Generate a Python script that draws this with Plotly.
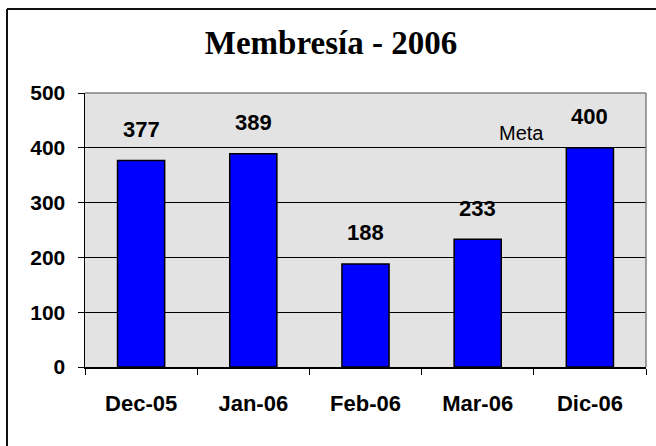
import plotly.graph_objects as go

categories = ["Dec-05", "Jan-06", "Feb-06", "Mar-06", "Dic-06"]
values = [377, 389, 188, 233, 400]
y_ticks = [0, 100, 200, 300, 400, 500]
title_text = "Membresía - 2006"
goal_label = "Meta"
goal_category = "Dic-06"
goal_value = 400

W, H = 656, 446
ML, MR, MT, MB = 85, 10, 93, 79
pw = W - ML - MR
ph = H - MT - MB

sans = "Liberation Sans, Arial, sans-serif"

fig = go.Figure()
fig.add_trace(go.Bar(
    x=categories, y=values,
    marker=dict(color="#0000FF", line=dict(color="#000000", width=1.5)),
    hoverinfo="skip",
))

annotations = []
for c, v in zip(categories, values):
    annotations.append(dict(
        x=c, y=v, text=str(v), showarrow=False, yanchor="middle",
        yshift=31, font=dict(family=sans, size=22, color="#000000", weight="bold"),
    ))
annotations.append(dict(
    x=goal_category, y=goal_value, text=goal_label, showarrow=False,
    yanchor="middle", xshift=-68, yshift=15,
    font=dict(family=sans, size=20, color="#000000"),
))

# outer border (top and left only) in paper coords
bx = (7 - ML) / pw
by = (H - MB - 9) / ph
shapes = [
    dict(type="line", xref="paper", yref="paper", x0=bx, x1=(W - ML + 20) / pw, y0=by, y1=by,
         line=dict(color="#111111", width=2)),
    dict(type="line", xref="paper", yref="paper", x0=bx, x1=bx, y0=by, y1=-(MB + 20) / ph,
         line=dict(color="#111111", width=2)),
    # plot area top and right border in gray
    dict(type="line", xref="paper", yref="paper", x0=0, x1=1, y0=1, y1=1,
         line=dict(color="#808080", width=1.5), layer="above"),
    dict(type="line", xref="paper", yref="paper", x0=1, x1=1, y0=0, y1=1,
         line=dict(color="#808080", width=1.5), layer="above"),
]

fig.update_layout(
    width=W, height=H,
    margin=dict(l=ML, r=MR, t=MT, b=MB),
    paper_bgcolor="#FFFFFF",
    plot_bgcolor="#E3E3E3",
    bargap=0.58,
    showlegend=False,
    hovermode=False,
    title=dict(
        text=title_text, x=331 / W, xanchor="center",
        y=1 - 42 / H, yanchor="middle", yref="container",
        font=dict(family="Liberation Serif, Times New Roman, serif", size=33,
                  color="#000000", weight="bold"),
    ),
    xaxis=dict(
        type="category", tickson="boundaries", ticks="outside", ticklen=6,
        tickcolor="#000000", tickwidth=1, showline=True, linecolor="#000000",
        linewidth=1.5, showgrid=False, ticklabelstandoff=16,
        tickfont=dict(family=sans, size=22, color="#000000", weight="bold"),
    ),
    yaxis=dict(
        range=[0, 500], tickvals=y_ticks, ticks="outside", ticklen=6,
        tickcolor="#000000", tickwidth=1, showline=True, linecolor="#000000",
        linewidth=1.5, showgrid=True, gridcolor="#000000", gridwidth=1,
        zeroline=False, ticklabelstandoff=8,
        tickfont=dict(family=sans, size=21, color="#000000", weight="bold"),
    ),
    annotations=annotations,
    shapes=shapes,
)

fig.write_html(
    "out.html",
    config={"displayModeBar": False, "staticPlot": True},
    post_script="document.body.style.margin='0';document.body.style.overflow='hidden';",
)
